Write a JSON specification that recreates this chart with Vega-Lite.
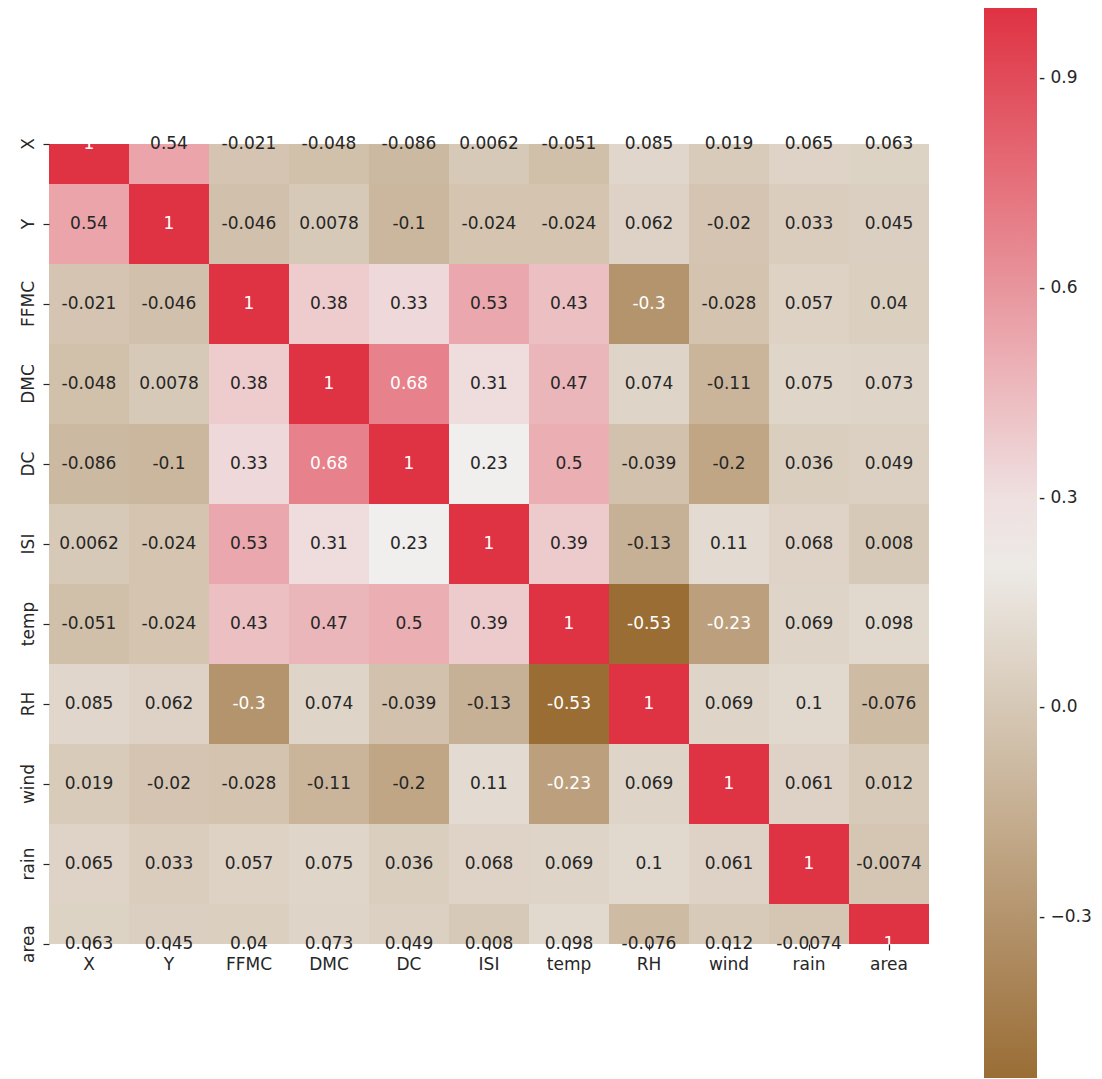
{
  "$schema": "https://vega.github.io/schema/vega-lite/v6.json",
  "autosize": "none",
  "width": 880,
  "height": 800,
  "padding": {"left": 49, "top": 144, "right": 173, "bottom": 135},
  "background": "white",
  "config": {
    "font": "DejaVu Sans",
    "view": {"stroke": null},
    "axis": {
      "domain": false,
      "grid": false,
      "ticks": true,
      "tickSize": 6,
      "tickColor": "#262626",
      "tickWidth": 1.2,
      "labelPadding": 6,
      "labelFontSize": 17,
      "labelColor": "#262626",
      "title": null
    }
  },
  "data": {
    "values": [
      {"row": "X", "col": "X", "r": 1}, {"row": "X", "col": "Y", "r": 0.54}, {"row": "X", "col": "FFMC", "r": -0.021}, {"row": "X", "col": "DMC", "r": -0.048}, {"row": "X", "col": "DC", "r": -0.086}, {"row": "X", "col": "ISI", "r": 0.0062}, {"row": "X", "col": "temp", "r": -0.051}, {"row": "X", "col": "RH", "r": 0.085}, {"row": "X", "col": "wind", "r": 0.019}, {"row": "X", "col": "rain", "r": 0.065}, {"row": "X", "col": "area", "r": 0.063},
      {"row": "Y", "col": "X", "r": 0.54}, {"row": "Y", "col": "Y", "r": 1}, {"row": "Y", "col": "FFMC", "r": -0.046}, {"row": "Y", "col": "DMC", "r": 0.0078}, {"row": "Y", "col": "DC", "r": -0.1}, {"row": "Y", "col": "ISI", "r": -0.024}, {"row": "Y", "col": "temp", "r": -0.024}, {"row": "Y", "col": "RH", "r": 0.062}, {"row": "Y", "col": "wind", "r": -0.02}, {"row": "Y", "col": "rain", "r": 0.033}, {"row": "Y", "col": "area", "r": 0.045},
      {"row": "FFMC", "col": "X", "r": -0.021}, {"row": "FFMC", "col": "Y", "r": -0.046}, {"row": "FFMC", "col": "FFMC", "r": 1}, {"row": "FFMC", "col": "DMC", "r": 0.38}, {"row": "FFMC", "col": "DC", "r": 0.33}, {"row": "FFMC", "col": "ISI", "r": 0.53}, {"row": "FFMC", "col": "temp", "r": 0.43}, {"row": "FFMC", "col": "RH", "r": -0.3}, {"row": "FFMC", "col": "wind", "r": -0.028}, {"row": "FFMC", "col": "rain", "r": 0.057}, {"row": "FFMC", "col": "area", "r": 0.04},
      {"row": "DMC", "col": "X", "r": -0.048}, {"row": "DMC", "col": "Y", "r": 0.0078}, {"row": "DMC", "col": "FFMC", "r": 0.38}, {"row": "DMC", "col": "DMC", "r": 1}, {"row": "DMC", "col": "DC", "r": 0.68}, {"row": "DMC", "col": "ISI", "r": 0.31}, {"row": "DMC", "col": "temp", "r": 0.47}, {"row": "DMC", "col": "RH", "r": 0.074}, {"row": "DMC", "col": "wind", "r": -0.11}, {"row": "DMC", "col": "rain", "r": 0.075}, {"row": "DMC", "col": "area", "r": 0.073},
      {"row": "DC", "col": "X", "r": -0.086}, {"row": "DC", "col": "Y", "r": -0.1}, {"row": "DC", "col": "FFMC", "r": 0.33}, {"row": "DC", "col": "DMC", "r": 0.68}, {"row": "DC", "col": "DC", "r": 1}, {"row": "DC", "col": "ISI", "r": 0.23}, {"row": "DC", "col": "temp", "r": 0.5}, {"row": "DC", "col": "RH", "r": -0.039}, {"row": "DC", "col": "wind", "r": -0.2}, {"row": "DC", "col": "rain", "r": 0.036}, {"row": "DC", "col": "area", "r": 0.049},
      {"row": "ISI", "col": "X", "r": 0.0062}, {"row": "ISI", "col": "Y", "r": -0.024}, {"row": "ISI", "col": "FFMC", "r": 0.53}, {"row": "ISI", "col": "DMC", "r": 0.31}, {"row": "ISI", "col": "DC", "r": 0.23}, {"row": "ISI", "col": "ISI", "r": 1}, {"row": "ISI", "col": "temp", "r": 0.39}, {"row": "ISI", "col": "RH", "r": -0.13}, {"row": "ISI", "col": "wind", "r": 0.11}, {"row": "ISI", "col": "rain", "r": 0.068}, {"row": "ISI", "col": "area", "r": 0.008},
      {"row": "temp", "col": "X", "r": -0.051}, {"row": "temp", "col": "Y", "r": -0.024}, {"row": "temp", "col": "FFMC", "r": 0.43}, {"row": "temp", "col": "DMC", "r": 0.47}, {"row": "temp", "col": "DC", "r": 0.5}, {"row": "temp", "col": "ISI", "r": 0.39}, {"row": "temp", "col": "temp", "r": 1}, {"row": "temp", "col": "RH", "r": -0.53}, {"row": "temp", "col": "wind", "r": -0.23}, {"row": "temp", "col": "rain", "r": 0.069}, {"row": "temp", "col": "area", "r": 0.098},
      {"row": "RH", "col": "X", "r": 0.085}, {"row": "RH", "col": "Y", "r": 0.062}, {"row": "RH", "col": "FFMC", "r": -0.3}, {"row": "RH", "col": "DMC", "r": 0.074}, {"row": "RH", "col": "DC", "r": -0.039}, {"row": "RH", "col": "ISI", "r": -0.13}, {"row": "RH", "col": "temp", "r": -0.53}, {"row": "RH", "col": "RH", "r": 1}, {"row": "RH", "col": "wind", "r": 0.069}, {"row": "RH", "col": "rain", "r": 0.1}, {"row": "RH", "col": "area", "r": -0.076},
      {"row": "wind", "col": "X", "r": 0.019}, {"row": "wind", "col": "Y", "r": -0.02}, {"row": "wind", "col": "FFMC", "r": -0.028}, {"row": "wind", "col": "DMC", "r": -0.11}, {"row": "wind", "col": "DC", "r": -0.2}, {"row": "wind", "col": "ISI", "r": 0.11}, {"row": "wind", "col": "temp", "r": -0.23}, {"row": "wind", "col": "RH", "r": 0.069}, {"row": "wind", "col": "wind", "r": 1}, {"row": "wind", "col": "rain", "r": 0.061}, {"row": "wind", "col": "area", "r": 0.012},
      {"row": "rain", "col": "X", "r": 0.065}, {"row": "rain", "col": "Y", "r": 0.033}, {"row": "rain", "col": "FFMC", "r": 0.057}, {"row": "rain", "col": "DMC", "r": 0.075}, {"row": "rain", "col": "DC", "r": 0.036}, {"row": "rain", "col": "ISI", "r": 0.068}, {"row": "rain", "col": "temp", "r": 0.069}, {"row": "rain", "col": "RH", "r": 0.1}, {"row": "rain", "col": "wind", "r": 0.061}, {"row": "rain", "col": "rain", "r": 1}, {"row": "rain", "col": "area", "r": -0.0074},
      {"row": "area", "col": "X", "r": 0.063}, {"row": "area", "col": "Y", "r": 0.045}, {"row": "area", "col": "FFMC", "r": 0.04}, {"row": "area", "col": "DMC", "r": 0.073}, {"row": "area", "col": "DC", "r": 0.049}, {"row": "area", "col": "ISI", "r": 0.008}, {"row": "area", "col": "temp", "r": 0.098}, {"row": "area", "col": "RH", "r": -0.076}, {"row": "area", "col": "wind", "r": 0.012}, {"row": "area", "col": "rain", "r": -0.0074}, {"row": "area", "col": "area", "r": 1}
    ]
  },
  "encoding": {
    "x": {
      "field": "col",
      "type": "nominal",
      "sort": ["X", "Y", "FFMC", "DMC", "DC", "ISI", "temp", "RH", "wind", "rain", "area"],
      "scale": {"paddingInner": 0, "paddingOuter": 0},
      "axis": {"orient": "bottom", "labelAngle": 0}
    },
    "y": {
      "field": "row",
      "type": "nominal",
      "sort": ["X", "Y", "FFMC", "DMC", "DC", "ISI", "temp", "RH", "wind", "rain", "area"],
      "scale": {"paddingInner": 0, "paddingOuter": 0, "range": [-40, 840]},
      "axis": {"orient": "left", "labelAngle": -90, "labelAlign": "center", "labelBaseline": "bottom"}
    }
  },
  "layer": [
    {
      "mark": {"type": "rect", "clip": true},
      "encoding": {
        "color": {
          "field": "r",
          "type": "quantitative",
          "scale": {
            "type": "linear",
            "domain": [-0.53, 0.235, 1],
            "range": ["#9a6d35", "#f1f0ef", "#df3243"],
            "interpolate": "rgb"
          },
          "legend": {
            "orient": "none",
            "legendX": 935,
            "legendY": -136,
            "direction": "vertical",
            "title": null,
            "gradientLength": 1070,
            "gradientThickness": 53,
            "gradientStrokeWidth": 0,
            "values": [-0.3, 0, 0.3, 0.6, 0.9],
            "format": ".1f",
            "labelExpr": "'- ' + replace(datum.label, '-', '\u2212')",
            "labelFontSize": 17,
            "labelColor": "#262626",
            "labelOffset": 2,
            "labelOverlap": false
          }
        }
      }
    },
    {
      "mark": {"type": "text", "fontSize": 17, "baseline": "middle", "align": "center"},
      "encoding": {
        "text": {"field": "r", "type": "nominal"},
        "color": {
          "condition": {"test": "datum.r >= 0.6 || datum.r <= -0.21", "value": "#ffffff"},
          "value": "#262626"
        }
      }
    }
  ]
}
